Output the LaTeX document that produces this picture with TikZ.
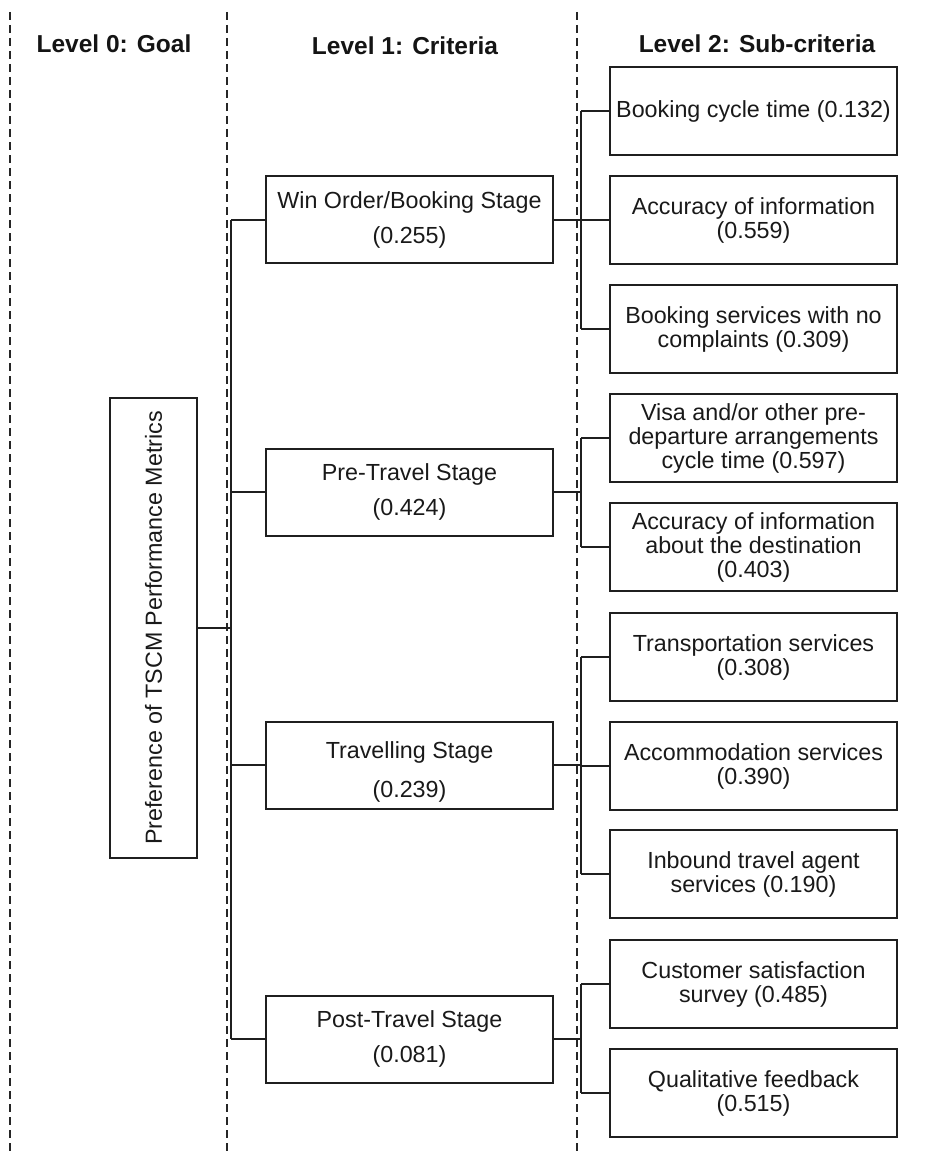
\documentclass[tikz,border=0pt]{standalone}
\usepackage{fontspec}
\setmainfont{Liberation Sans}
\begin{document}
\begin{tikzpicture}[x=1pt,y=-1pt,
  frame/.style={draw=black!88, line width=2pt, inner sep=2pt, align=center, text=black!90},
  subbox/.style={frame, minimum width=287pt, minimum height=88pt, font=\fontsize{23.3}{24}\selectfont},
  critbox/.style={frame, minimum width=287pt, minimum height=87pt, font=\fontsize{23.3}{35}\selectfont},
  goalbox/.style={frame, minimum width=87pt, minimum height=460pt},
  header/.style={font=\fontsize{24.5}{28}\selectfont\bfseries, text=black!92},
  sep/.style={draw=black!85, line width=1.5pt, dash pattern=on 8pt off 5pt},
  link/.style={draw=black!88, line width=2pt}]
\useasboundingbox (0,0) rectangle (945,1153);
% separators
\coordinate (d0t) at (10,12);   \coordinate (d0b) at (10,1153);
\coordinate (d1t) at (227,12);  \coordinate (d1b) at (227,1153);
\coordinate (d2t) at (577,12);  \coordinate (d2b) at (577,1153);
\draw[sep] (d0t) -- (d0b);
\draw[sep] (d1t) -- (d1b);
\draw[sep] (d2t) -- (d2b);
% headers
\node[header] (h0) at (114,44) {Level 0: Goal};
\node[header] (h1) at (405,46) {Level 1: Criteria};
\node[header] (h2) at (757,44) {Level 2: Sub-criteria};
% goal
\node[goalbox] (goal) at (153.5,628) {};
\node[rotate=90, font=\fontsize{23.3}{24}\selectfont, text=black!90] (goaltext) at (153.5,628) {Preference of TSCM Performance Metrics};
% criteria
\node[critbox] (c1) at (409.5,219.5) {Win Order/Booking Stage\\(0.255)};
\node[critbox] (c2) at (409.5,492) {Pre-Travel Stage\\(0.424)};
\node[critbox, font=\fontsize{23.3}{39}\selectfont] (c3) at (409.5,765) {\rule{0pt}{30pt}Travelling Stage\\(0.239)};
\node[critbox] (c4) at (409.5,1039) {Post-Travel Stage\\(0.081)};
% sub-criteria
\node[subbox] (s1) at (753.5,111) {Booking cycle time (0.132)};
\node[subbox] (s2) at (753.5,220) {Accuracy of information\\(0.559)};
\node[subbox] (s3) at (753.5,329) {Booking services with no\\complaints (0.309)};
\node[subbox] (s4) at (753.5,438) {Visa and/or other pre-\\departure arrangements\\cycle time (0.597)};
\node[subbox] (s5) at (753.5,547) {Accuracy of information\\about the destination\\(0.403)};
\node[subbox] (s6) at (753.5,657) {Transportation services\\(0.308)};
\node[subbox] (s7) at (753.5,766) {Accommodation services\\(0.390)};
\node[subbox] (s8) at (753.5,874) {Inbound travel agent\\services (0.190)};
\node[subbox] (s9) at (753.5,984) {Customer satisfaction\\survey (0.485)};
\node[subbox] (s10) at (753.5,1093) {Qualitative feedback\\(0.515)};
% buses
\coordinate (busL) at (231,0);
\coordinate (busR) at (581,0);
\draw[link] (goal.east) -- (goal.east -| busL);
\draw[link] (c1.west -| busL) -- (c4.west -| busL);
\foreach \c in {c1,c2,c3,c4}{\draw[link] (\c.west) -- (\c.west -| busL);}
\foreach \c in {c1,c2,c3,c4}{\draw[link] (\c.east) -- (\c.east -| busR);}
\draw[link] (s1.west -| busR) -- (s3.west -| busR);
\draw[link] (s4.west -| busR) -- (s5.west -| busR);
\draw[link] (s6.west -| busR) -- (s8.west -| busR);
\draw[link] (s9.west -| busR) -- (s10.west -| busR);
\foreach \s in {s1,s2,s3,s4,s5,s6,s7,s8,s9,s10}{\draw[link] (\s.west) -- (\s.west -| busR);}
\end{tikzpicture}
\end{document}
